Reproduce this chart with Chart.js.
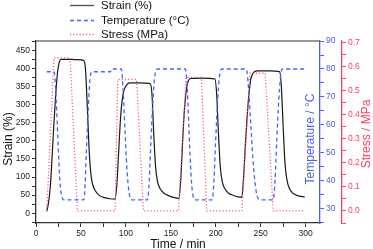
<!DOCTYPE html>
<html>
<head>
<meta charset="utf-8">
<script src="https://cdn.jsdelivr.net/npm/chart.js@4/dist/chart.umd.min.js"></script>
<style>
  html, body { margin: 0; padding: 0; background: #fff; }
  #wrap { width: 373px; height: 249px; }
</style>
</head>
<body>
<div id="wrap"><canvas id="c" width="373" height="249"></canvas></div>
<script>
// values
const strainTime = [12,14,16,18,20,22,24,26,28,35,45,53,55,57,59,61,63,66,70,76,82,88,90,92,94,96,98,101,104,115,127,129,131,133,135,138,142,148,154,159,161,163,165,167,169,172,185,199,201,203,205,207,210,214,220,225,229,231,233,235,237,239,242,246,260,271,273,275,277,279,282,286,292,299];
const strainValues = [5,30,75,160,250,330,390,418,425,425,424,422,400,300,180,110,80,62,50,43,40,39,80,170,260,315,340,355,360,360,358,330,220,130,90,68,56,48,43,41,90,190,280,335,362,372,373,371,330,220,130,90,68,56,49,45,44,100,190,270,330,370,388,393,393,391,350,240,140,95,68,55,48,45];

const tempTime = [12,20,21,23,25,27,29,31,53,54,56,58,60,62,83,84,95,97,99,101,103,106,124,126,128,130,132,135,166,168,170,172,174,177,196,198,200,202,204,207,234,236,239,242,245,249,264,266,268,270,272,274,299];
const tempValues = [79,79,77,65,50,38,34,33,33,35,50,65,76,79,79,80,80,72,58,45,37,33,33,40,55,68,77,80,80,75,60,45,36,33,33,40,55,68,77,80,80,75,60,45,36,33,33,40,55,68,77,80,80];

const stressTime = [12,20,38,46,88,91,112,119.5,158.5,167,184,190,229,238,255,264,299];
const stressValues = [0,0.636,0.636,0,0,0.546,0.546,0,0,0.555,0.555,0,0,0.572,0.572,0,0];

const seriesNames = ['Strain (%)', 'Temperature (°C)', 'Stress (MPa)'];
const axisTitles = { x: 'Time / min', y: 'Strain (%)', yT: 'Temperature / °C', yS: 'Stress / MPa' };

const FONT = '"Liberation Sans", Arial, sans-serif';
const BLUE = '#4563ff', BLUE_AX = '#4d5ef2';
const RED = '#ff5c7c', RED_AX = '#ff3a64';
const DARK = '#222';

function pts(xs, ys) { return xs.map((x, i) => ({ x: x, y: ys[i] })); }

// frame top, legend and axis titles
const extras = {
  id: 'extras',
  afterDraw(chart) {
    const ctx = chart.ctx, a = chart.chartArea;
    ctx.save();
    ctx.strokeStyle = '#777'; ctx.lineWidth = 1.5;
    ctx.beginPath(); ctx.moveTo(a.left, a.top); ctx.lineTo(a.right, a.top); ctx.stroke();

    const leg = [
      { y: 5.5, color: '#555', dash: [] },
      { y: 20.5, color: BLUE, dash: [4, 3] },
      { y: 34.5, color: RED, dash: [1.2, 2] }
    ];
    ctx.font = '11.5px ' + FONT; ctx.textBaseline = 'middle'; ctx.textAlign = 'left';
    leg.forEach((l, i) => {
      ctx.strokeStyle = l.color; ctx.lineWidth = 1.4; ctx.setLineDash(l.dash);
      ctx.beginPath(); ctx.moveTo(70, l.y); ctx.lineTo(94, l.y); ctx.stroke();
      ctx.setLineDash([]);
      ctx.fillStyle = '#111';
      ctx.fillText(seriesNames[i], 101, l.y + 0.5);
    });

    ctx.font = '12px ' + FONT; ctx.textAlign = 'center';
    ctx.fillStyle = '#111';
    ctx.fillText(axisTitles.x, (a.left + a.right) / 2, 244.5);
    const vert = (txt, x, y, col) => {
      ctx.save(); ctx.translate(x, y); ctx.rotate(-Math.PI / 2);
      ctx.fillStyle = col; ctx.fillText(txt, 0, 0); ctx.restore();
    };
    vert(axisTitles.y, 9, 139, '#111');
    vert(axisTitles.yT, 311, 139, BLUE_AX);
    vert(axisTitles.yS, 367, 134, RED_AX);
    ctx.restore();
  }
};

function axis(color, tickColor, step, pad, labelFn, extra) {
  return Object.assign({
    type: 'linear',
    grid: { drawOnChartArea: false, color: tickColor, tickLength: 4, lineWidth: 1 },
    border: { display: true, color: tickColor, width: 1.3 },
    ticks: {
      stepSize: step, autoSkip: false, maxRotation: 0, includeBounds: false, padding: pad,
      color: color, font: { family: FONT, size: 8.5 }, callback: labelFn
    }
  }, extra);
}

new Chart(document.getElementById('c'), {
  type: 'line',
  data: {
    datasets: [
      { label: seriesNames[1], data: pts(tempTime, tempValues), yAxisID: 'yT', borderColor: BLUE, borderWidth: 1.3, borderDash: [4, 3], pointRadius: 0, cubicInterpolationMode: 'monotone', fill: false },
      { label: seriesNames[2], data: pts(stressTime, stressValues), yAxisID: 'yS', borderColor: RED, borderWidth: 1.3, borderDash: [1.2, 2], pointRadius: 0, tension: 0, fill: false },
      { label: seriesNames[0], data: pts(strainTime, strainValues), yAxisID: 'y', borderColor: '#1a1a1a', borderWidth: 1.2, pointRadius: 0, cubicInterpolationMode: 'monotone', fill: false }
    ]
  },
  options: {
    responsive: false, animation: false, devicePixelRatio: 1,
    layout: { padding: { top: 41, left: 0, right: 0, bottom: 0 } },
    plugins: { legend: { display: false }, tooltip: { enabled: false } },
    scales: {
      x: axis(DARK, '#333', 25, 2, v => (v % 50 === 0 ? v : ''), {
        min: 0, max: 316,
        afterFit: s => { s.height = 26; }
      }),
      y: axis(DARK, '#333', 25, 2, v => (v >= 0 && v % 50 === 0 ? v : ''), {
        position: 'left', min: -27, max: 475.5,
        afterFit: s => { s.width = 36; }
      }),
      yT: axis(BLUE_AX, BLUE_AX, 5, 2, v => (v % 10 === 0 ? v : ''), {
        position: 'right', min: 24.7, max: 90.05, weight: 0,
        afterFit: s => { s.width = 22; }
      }),
      yS: axis(RED_AX, RED_AX, 0.05, 2, v => (Math.abs(v * 10 - Math.round(v * 10)) < 1e-6 ? v.toFixed(1) : ''), {
        position: 'right', min: -0.05, max: 0.706, weight: 1,
        afterFit: s => { s.width = 31; }
      })
    }
  },
  plugins: [extras]
});
</script>
</body>
</html>
